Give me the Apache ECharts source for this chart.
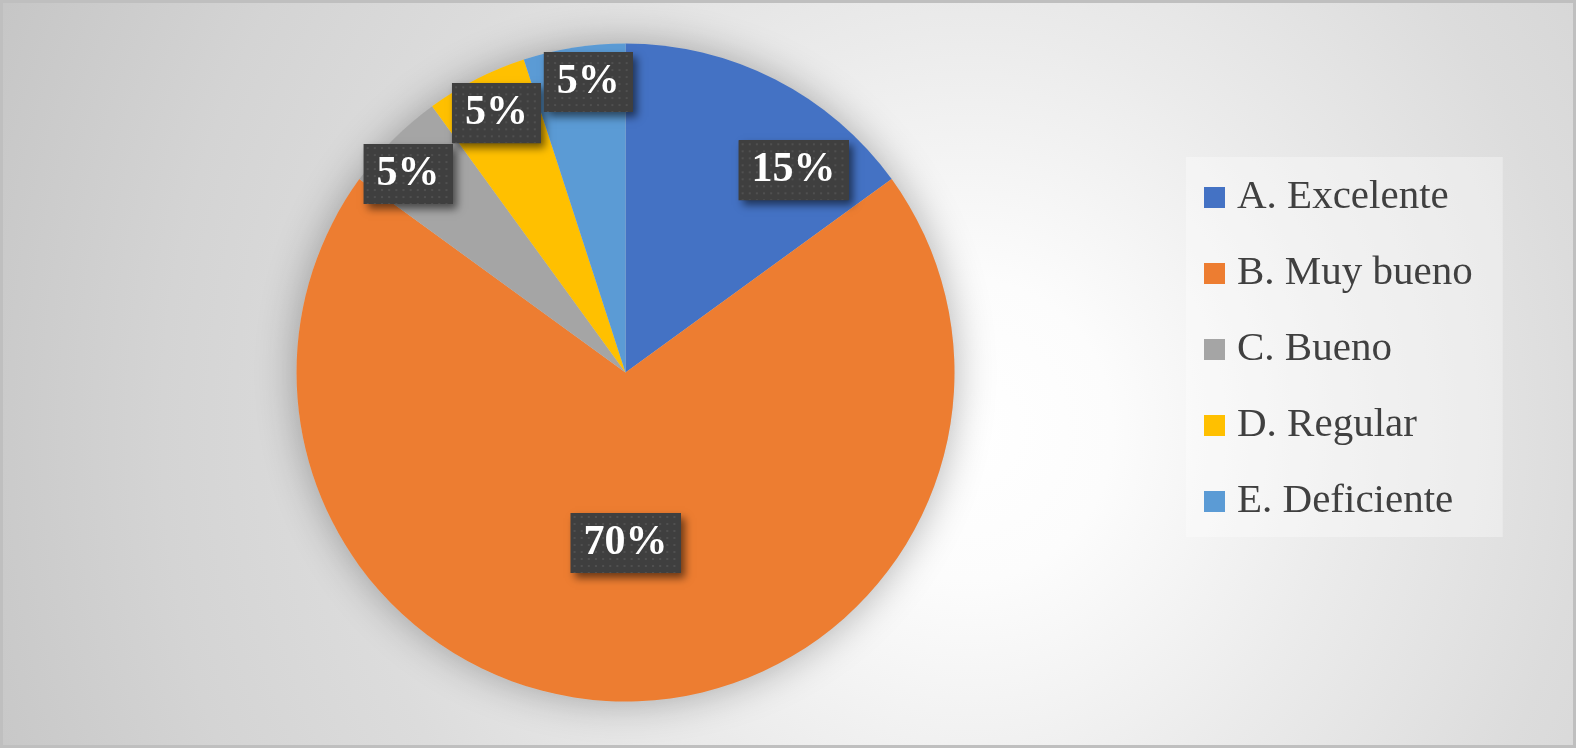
<!DOCTYPE html>
<html>
<head>
<meta charset="utf-8">
<script src="https://cdn.jsdelivr.net/npm/echarts@6/dist/echarts.min.js"></script>
<style>
  html, body { margin: 0; padding: 0; background: #ffffff; }
  #chart {
    position: absolute; left: 0; top: 0;
    width: 1576px; height: 748px;
    background: radial-gradient(ellipse 950px 1000px at 970px 430px,
      #ffffff 0%, #fcfcfc 15%, #ebebeb 40%, #dcdcdc 65%, #d4d4d4 85%, #c6c6c6 110%);
    box-shadow: inset 0 0 0 3px #bfbfbf;
  }
</style>
</head>
<body>
<div id="chart"></div>
<script>
// datos
const categories = ['A. Excelente', 'B. Muy bueno', 'C. Bueno', 'D. Regular', 'E. Deficiente']
const values = [15, 70, 5, 5, 5]
const colors = ['#4472C4', '#ED7D31', '#A5A5A5', '#FFC000', '#5B9BD5']

// desplazamiento de etiquetas (estilo "mejor ajuste" de Excel)
const labelShift = [[92, -53], [0, 3], [-99, -80], [-53, -110], [-11, -125]]

// fondo punteado de las etiquetas
function dottedTile(w, h) {
  const c = document.createElement('canvas')
  c.width = w
  c.height = h
  const ctx = c.getContext('2d')
  ctx.fillStyle = '#3f3f3f'
  ctx.fillRect(0, 0, w, h)
  ctx.fillStyle = '#505050'
  for (let y = 3; y < h; y += 7) {
    for (let x = 3; x < w; x += 7) {
      ctx.fillRect(x, y, 2, 2)
    }
  }
  return c
}
const tileWide = dottedTile(108, 60)
const tileNarrow = dottedTile(87, 60)

const chart = echarts.init(document.getElementById('chart'))

let pieData = []
let overlayData = []
for (let i = 0; i < categories.length; i++) {
  pieData.push({ name: categories[i], value: values[i], itemStyle: { color: colors[i] } })
  overlayData.push({
    name: categories[i],
    value: values[i],
    label: { backgroundColor: { image: values[i] >= 10 ? tileWide : tileNarrow } }
  })
}

const shiftLabel = function (params) {
  const s = labelShift[params.dataIndex]
  return { dx: s[0], dy: s[1] }
}

const labelBase = {
  show: true,
  position: 'inside',
  formatter: '{d}%',
  fontFamily: 'Liberation Serif',
  fontWeight: 'bold',
  fontSize: 42,
  lineHeight: 42,
  padding: [9, 13, 9, 13]
}

const options = {
  animation: false,
  legend: {
    orient: 'vertical',
    left: 1186,
    top: 157,
    padding: [20, 30, 15, 18],
    backgroundColor: 'rgba(255,255,255,0.35)',
    icon: 'rect',
    itemWidth: 21,
    itemHeight: 21,
    itemGap: 35,
    data: categories,
    textStyle: {
      fontFamily: 'Liberation Serif',
      fontSize: 41,
      lineHeight: 40,
      color: '#404040',
      padding: [0, 0, 0, 7]
    }
  },
  series: [
    {
      type: 'pie',
      silent: true,
      center: [625.5, 372.5],
      radius: 329,
      z: 1,
      label: { show: false },
      labelLine: { show: false },
      itemStyle: {
        color: '#cccccc',
        shadowBlur: 40,
        shadowColor: 'rgba(0,0,0,0.3)'
      },
      data: [{ value: 1, name: '' }]
    },
    {
      // sectores + sombra de las etiquetas
      type: 'pie',
      center: [625.5, 372.5],
      radius: 329,
      startAngle: 90,
      clockwise: true,
      z: 2,
      itemStyle: { borderWidth: 0 },
      label: Object.assign({}, labelBase, {
        color: 'rgba(0,0,0,0)',
        backgroundColor: '#3f3f3f',
        shadowColor: 'rgba(0,0,0,0.55)',
        shadowBlur: 8,
        shadowOffsetX: 4,
        shadowOffsetY: 5
      }),
      labelLine: { show: false },
      labelLayout: shiftLabel,
      data: pieData
    },
    {
      // etiquetas con fondo punteado
      type: 'pie',
      silent: true,
      center: [625.5, 372.5],
      radius: 329,
      startAngle: 90,
      clockwise: true,
      z: 3,
      itemStyle: { color: 'rgba(0,0,0,0)', borderWidth: 0 },
      label: Object.assign({}, labelBase, { color: '#ffffff' }),
      labelLine: { show: false },
      labelLayout: shiftLabel,
      data: overlayData
    }
  ]
}

chart.setOption(options)
</script>
</body>
</html>
